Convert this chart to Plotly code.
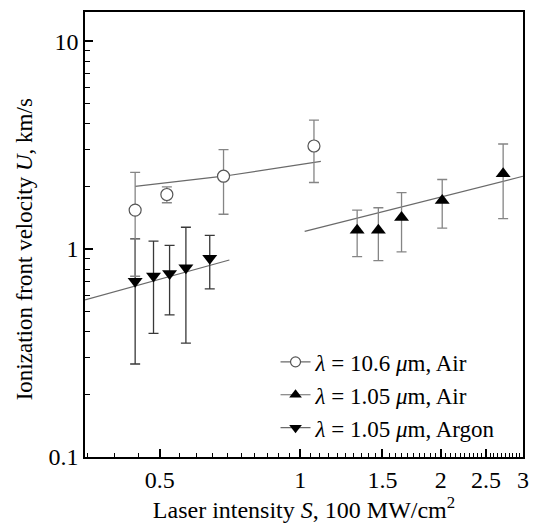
import plotly.graph_objects as go

# ---- data ----
s_co2 = [0.443, 0.518, 0.685, 1.07]
u_co2 = [1.54, 1.83, 2.24, 3.13]
e_co2 = [0.80, 0.16, 0.77, 1.04]

s_air = [1.324, 1.47, 1.648, 2.014, 2.72]
u_air = [1.23, 1.23, 1.42, 1.71, 2.30]
e_air = [0.31, 0.35, 0.45, 0.45, 0.90]

s_ar = [0.443, 0.485, 0.525, 0.569, 0.640]
u_ar = [0.70, 0.743, 0.762, 0.813, 0.903]
e_ar = [0.42, 0.35, 0.28, 0.46, 0.26]

# fitted lines
fit_co2_s = [0.443, 0.685, 1.107]
fit_co2_u = [2.00, 2.24, 2.64]
fit_air_s = [1.022, 3.0]
fit_air_u = [1.216, 2.24]
fit_ar_s = [0.346, 0.705]
fit_ar_u = [0.569, 0.886]

legend_names = ["<i>λ</i> = 10.6 <i>μ</i>m, Air",
                "<i>λ</i> = 1.05 <i>μ</i>m, Air",
                "<i>λ</i> = 1.05 <i>μ</i>m, Argon"]

FONT = "Liberation Serif"
LINE = "#6a6a6a"
XR = [-0.461, 0.4771]
YR = [-1, 1.14]

fig = go.Figure()

# fit lines
for xs, ys in [(fit_co2_s, fit_co2_u), (fit_air_s, fit_air_u), (fit_ar_s, fit_ar_u)]:
    fig.add_trace(go.Scatter(x=xs, y=ys, mode="lines", line=dict(color=LINE, width=1.2),
                             showlegend=False, hoverinfo="skip"))

# data with error bars
fig.add_trace(go.Scatter(
    x=s_ar, y=u_ar, mode="markers", showlegend=False,
    error_y=dict(type="data", array=e_ar, color="#383838", thickness=1.3, width=5),
    marker=dict(symbol="triangle-down", size=13, color="black")))
fig.add_trace(go.Scatter(
    x=s_air, y=u_air, mode="markers", showlegend=False,
    error_y=dict(type="data", array=e_air, color="#858585", thickness=1.3, width=5),
    marker=dict(symbol="triangle-up", size=13, color="black")))
fig.add_trace(go.Scatter(
    x=s_co2, y=u_co2, mode="markers", showlegend=False,
    error_y=dict(type="data", array=e_co2, color="#858585", thickness=1.3, width=5),
    marker=dict(symbol="circle", size=12, color="white", line=dict(color="#555555", width=1.2))))

# legend entries
leg_markers = [dict(symbol="circle", size=10, color="white", line=dict(color="#555555", width=1.2)),
               dict(symbol="triangle-up", size=11, color="black"),
               dict(symbol="triangle-down", size=11, color="black")]
for i, (nm, mk) in enumerate(zip(legend_names, leg_markers)):
    fig.add_trace(go.Scatter(x=[None], y=[None], mode="lines+markers", name=nm,
                             line=dict(color=LINE, width=1.2), marker=mk))

fig.update_layout(
    template="simple_white",
    width=533, height=527,
    margin=dict(l=85, r=10, t=12, b=70),
    paper_bgcolor="white", plot_bgcolor="white",
    font=dict(family=FONT, size=21, color="black"),
    showlegend=True,
    legend=dict(x=0.435, y=0.262, xanchor="left", yanchor="top",
                bgcolor="rgba(0,0,0,0)", font=dict(family=FONT, size=23)),
    xaxis=dict(type="log", range=XR, automargin=False,
               tickmode="linear", tick0=0, dtick="L0.5",
               ticks="inside", ticklen=8, tickwidth=1.5, tickcolor="#000000",
               showline=True, linecolor="black", linewidth=1.5, mirror=True,
               showgrid=False, zeroline=False,
               tickfont=dict(size=24, color="black"),
               minor=dict(tickmode="linear", tick0=0, dtick="L0.05", ticks="inside", ticklen=4,
                          tickwidth=1.2, tickcolor="#000000", showgrid=False),
               title=dict(text="Laser intensity <i>S</i>, 100 MW/cm<sup>2</sup>",
                          font=dict(size=24, color="black"), standoff=9)),
    yaxis=dict(type="log", range=YR, automargin=False,
               tickmode="linear", tick0=0, dtick=1,
               ticks="inside", ticklen=8, tickwidth=1.5, tickcolor="#000000",
               showline=True, linecolor="black", linewidth=1.5, mirror=True,
               showgrid=False, zeroline=False,
               tickfont=dict(size=24, color="black"),
               minor=dict(tickmode="linear", dtick="D1", ticks="inside", ticklen=5, tickwidth=1.2,
                          tickcolor="#000000", showgrid=False)),
    annotations=[dict(text="Ionization front velocity <i>U</i>, km/s", textangle=-90,
                      xref="paper", yref="paper", x=-0.139, y=0.467,
                      xanchor="center", yanchor="middle", showarrow=False,
                      font=dict(family=FONT, size=23, color="black"))],
)

fig.write_html("out.html", config={"displayModeBar": False},
               post_script="document.body.style.margin='0';document.body.style.overflow='hidden';")
